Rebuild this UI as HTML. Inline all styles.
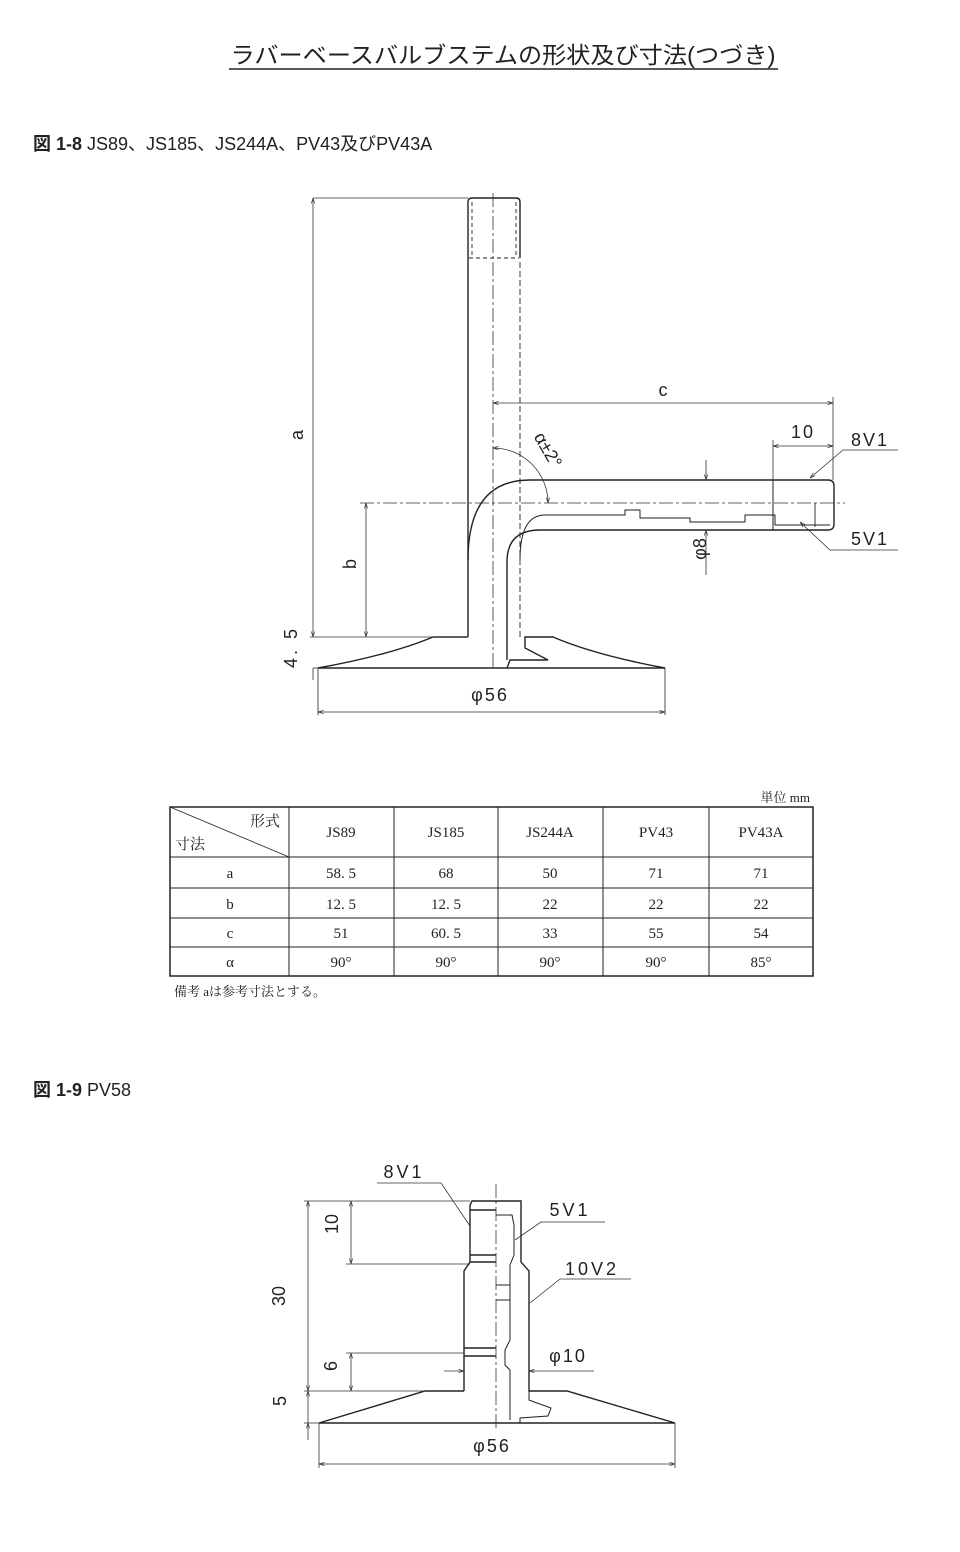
<!DOCTYPE html>
<html><head><meta charset="utf-8"><style>
body{margin:0;background:#fff;}
svg{display:block}
text{font-family:"Liberation Sans","Noto Sans CJK JP",sans-serif;fill:#222}
.s{font-family:"Liberation Serif","Noto Serif CJK SC",serif}
</style></head><body>
<svg width="960" height="1552" viewBox="0 0 960 1552" xmlns="http://www.w3.org/2000/svg">
<defs>
<marker id="ar" viewBox="0 0 10 10" refX="10" refY="5" markerWidth="7" markerHeight="7" orient="auto-start-reverse"><path d="M0,2 L10,5 L0,8" fill="none" stroke="#333" stroke-width="1.2"/></marker>
</defs>
<text x="503" y="63" font-size="23" text-anchor="middle" textLength="545" lengthAdjust="spacingAndGlyphs">ラバーベースバルブステムの形状及び寸法(つづき)</text>
<line x1="229" y1="69" x2="778" y2="69" stroke="#222" stroke-width="1.5"/>
<text x="33" y="150" font-size="18"><tspan font-weight="bold">図 1-8</tspan>  JS89、JS185、JS244A、PV43及びPV43A</text>

<g stroke="#222" fill="none" stroke-width="1.4">
<path d="M468,637 L468,202 Q468,198 472,198 L516,198 Q520,198 520,202 L520,258"/>
<path d="M472,202 L472,258 M516,202 L516,258 M469,258 L519,258" stroke-dasharray="4,3" stroke-width="0.9"/>
<path d="M520,262 L520,637" stroke-dasharray="6,3" stroke-width="0.9"/>
<path d="M468,560 Q468,480 530,480 L828,480 Q834,480 834,486 L834,524 Q834,530 828,530 L540,530 Q507,530 507,562 L507,660"/>
<path d="M520,560 Q520,515 545,515 L625,515 L625,510 L640,510 L640,518 L690,518 L690,522 L745,522 L745,515 L775,515 L775,525 L830,525" stroke-width="1"/>
<line x1="773" y1="480" x2="773" y2="530" stroke-width="1"/>
<line x1="815" y1="503" x2="815" y2="527" stroke-width="0.9"/>
<path d="M468,637 L433,637 Q390,655 318,668 L665,668 Q595,655 553,637 L525,637 L525,648 L548,660 L510,660 L507,668"/>
<line x1="318" y1="668" x2="318" y2="715" stroke-width="0.8"/>
<line x1="665" y1="668" x2="665" y2="715" stroke-width="0.8"/>
</g>
<g stroke="#333" stroke-width="0.8" fill="none">
<line x1="493" y1="193" x2="493" y2="668" stroke-dasharray="14,3,3,3"/>
<line x1="360" y1="503" x2="845" y2="503" stroke-dasharray="14,3,3,3"/>
<line x1="313" y1="198" x2="468" y2="198"/>
<line x1="313" y1="198" x2="313" y2="637" marker-start="url(#ar)" marker-end="url(#ar)"/>
<line x1="310" y1="637" x2="468" y2="637"/>
<line x1="366" y1="503" x2="366" y2="637" marker-start="url(#ar)" marker-end="url(#ar)"/>
<line x1="313" y1="668" x2="318" y2="668"/>
<line x1="313" y1="668" x2="313" y2="680"/>
<line x1="318" y1="712" x2="665" y2="712" marker-start="url(#ar)" marker-end="url(#ar)"/>
<line x1="493" y1="403" x2="833" y2="403" marker-start="url(#ar)" marker-end="url(#ar)"/>
<line x1="833" y1="397" x2="833" y2="480"/>
<line x1="773" y1="446" x2="833" y2="446" marker-start="url(#ar)" marker-end="url(#ar)"/>
<line x1="773" y1="440" x2="773" y2="480"/>
<line x1="706" y1="460" x2="706" y2="480" marker-end="url(#ar)"/>
<line x1="706" y1="575" x2="706" y2="530" marker-end="url(#ar)"/>
<path d="M493,448 A55,55 0 0 1 548,503" marker-start="url(#ar)" marker-end="url(#ar)"/>
<polyline points="810,478 843,450 898,450" marker-start="url(#ar)"/>
<polyline points="800,522 830,550 898,550" marker-start="url(#ar)"/>
</g>
<g font-size="18">
<text x="298" y="440" transform="rotate(-90 298 435)" text-anchor="middle">a</text>
<text x="352" y="572" transform="rotate(-90 350 566)" text-anchor="middle">b</text>
<text x="303" y="653" transform="rotate(-90 297 653)" text-anchor="middle" letter-spacing="3">4. 5</text>
<text x="490" y="701" text-anchor="middle" letter-spacing="2">φ56</text>
<text x="663" y="396" text-anchor="middle">c</text>
<text x="803" y="438" text-anchor="middle" letter-spacing="2">10</text>
<text x="870" y="446" text-anchor="middle" letter-spacing="2">8V1</text>
<text x="870" y="545" text-anchor="middle" letter-spacing="2">5V1</text>
<text x="712" y="555" transform="rotate(-90 706 555)" text-anchor="middle">φ8</text>
<text x="548" y="456" transform="rotate(60 548 450)" text-anchor="middle" font-size="18">α±2°</text>
</g>

<text x="810" y="802" font-size="13" text-anchor="end" class="s">単位  mm</text>
<g stroke="#222" fill="none">
<rect x="170" y="807" width="643" height="169" stroke-width="1.5"/>
<path d="M170,857H813 M170,888H813 M170,918H813 M170,947H813 M289,807V976 M394,807V976 M498,807V976 M603,807V976 M709,807V976" stroke-width="1"/>
<line x1="170" y1="807" x2="289" y2="857" stroke-width="0.8"/>
</g>
<g class="s" font-size="15" text-anchor="middle">
<text x="265" y="826" class="s">形式</text>
<text x="190" y="849" class="s">寸法</text>
<text x="341" y="837" class="s">JS89</text><text x="446" y="837" class="s">JS185</text><text x="550" y="837" class="s">JS244A</text><text x="656" y="837" class="s">PV43</text><text x="761" y="837" class="s">PV43A</text>
<text x="230" y="878" class="s">a</text><text x="341" y="878" class="s">58. 5</text><text x="446" y="878" class="s">68</text><text x="550" y="878" class="s">50</text><text x="656" y="878" class="s">71</text><text x="761" y="878" class="s">71</text>
<text x="230" y="909" class="s">b</text><text x="341" y="909" class="s">12. 5</text><text x="446" y="909" class="s">12. 5</text><text x="550" y="909" class="s">22</text><text x="656" y="909" class="s">22</text><text x="761" y="909" class="s">22</text>
<text x="230" y="938" class="s">c</text><text x="341" y="938" class="s">51</text><text x="446" y="938" class="s">60. 5</text><text x="550" y="938" class="s">33</text><text x="656" y="938" class="s">55</text><text x="761" y="938" class="s">54</text>
<text x="230" y="967" class="s">α</text><text x="341" y="967" class="s">90°</text><text x="446" y="967" class="s">90°</text><text x="550" y="967" class="s">90°</text><text x="656" y="967" class="s">90°</text><text x="761" y="967" class="s">85°</text>
</g>
<text x="174" y="996" font-size="13" class="s">備考  aは参考寸法とする。</text>

<text x="33" y="1096" font-size="18"><tspan font-weight="bold">図 1-9</tspan>  PV58</text>

<g stroke="#222" fill="none" stroke-width="1.4">
<path d="M496,1201 L472,1201 L470,1205 L470,1262 L464,1271 L464,1391 M464,1348 L496,1348 M464,1356 L496,1356 M470,1262 L496,1262 M470,1255 L496,1255 M470,1210 L496,1210"/>
<path d="M496,1201 L521,1201 L521,1262 L529,1271 L529,1391 L567,1391 L675,1423 L319,1423 L425,1391 L464,1391"/>
<path d="M496,1215 L512,1215 L514,1225 L514,1255 L510,1265 L510,1340 L505,1350 L505,1365 L510,1370 L510,1420" stroke-width="1"/>
<path d="M529,1391 L529,1400 L537,1403 L551,1408 L548,1416 L520,1418 L520,1423" stroke-width="1"/>
<line x1="496" y1="1285" x2="510" y2="1285" stroke-width="1"/>
<line x1="496" y1="1300" x2="510" y2="1300" stroke-width="1"/>
</g>
<g stroke="#333" stroke-width="0.8" fill="none">
<line x1="496" y1="1184" x2="496" y2="1430" stroke-dasharray="14,3,3,3"/>
<line x1="304" y1="1201" x2="470" y2="1201"/>
<line x1="308" y1="1201" x2="308" y2="1391" marker-start="url(#ar)" marker-end="url(#ar)"/>
<line x1="351" y1="1201" x2="351" y2="1264" marker-start="url(#ar)" marker-end="url(#ar)"/>
<line x1="346" y1="1264" x2="470" y2="1264"/>
<line x1="351" y1="1353" x2="351" y2="1391" marker-start="url(#ar)" marker-end="url(#ar)"/>
<line x1="346" y1="1353" x2="464" y2="1353"/>
<line x1="304" y1="1391" x2="425" y2="1391"/>
<line x1="308" y1="1391" x2="308" y2="1423" marker-start="url(#ar)"/>
<line x1="308" y1="1423" x2="308" y2="1440" marker-start="url(#ar)"/>
<line x1="304" y1="1423" x2="319" y2="1423"/>
<line x1="319" y1="1423" x2="319" y2="1468"/>
<line x1="675" y1="1423" x2="675" y2="1468"/>
<line x1="319" y1="1464" x2="675" y2="1464" marker-start="url(#ar)" marker-end="url(#ar)"/>
<line x1="444" y1="1371" x2="464" y2="1371" marker-end="url(#ar)"/>
<line x1="594" y1="1371" x2="529" y2="1371" marker-end="url(#ar)"/>
<polyline points="377,1183 441,1183 470,1226" />
<polyline points="605,1222 541,1222 515,1240"/>
<polyline points="631,1279 560,1279 530,1303"/>
</g>
<g font-size="18">
<text x="404" y="1178" text-anchor="middle" letter-spacing="3">8V1</text>
<text x="570" y="1216" text-anchor="middle" letter-spacing="3">5V1</text>
<text x="592" y="1275" text-anchor="middle" letter-spacing="3">10V2</text>
<text x="568" y="1362" text-anchor="middle" letter-spacing="2">φ10</text>
<text x="492" y="1452" text-anchor="middle" letter-spacing="2">φ56</text>
<text x="344" y="1230" transform="rotate(-90 338 1230)" text-anchor="middle">10</text>
<text x="291" y="1302" transform="rotate(-90 285 1302)" text-anchor="middle">30</text>
<text x="343" y="1372" transform="rotate(-90 337 1372)" text-anchor="middle">6</text>
<text x="292" y="1407" transform="rotate(-90 286 1407)" text-anchor="middle">5</text>
</g>
</svg>
</body></html>
